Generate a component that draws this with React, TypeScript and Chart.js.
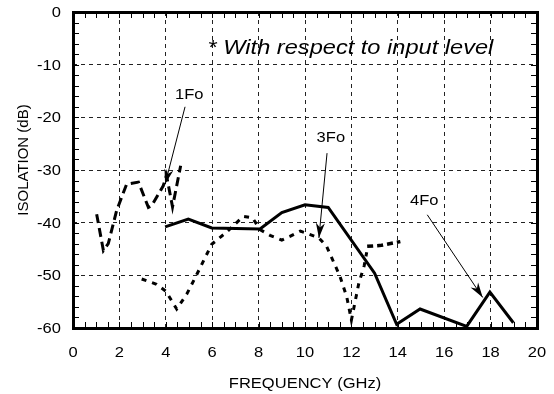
import React, { useEffect, useRef } from "react";
import { Chart, registerables } from "chart.js";

Chart.register(...registerables);

// ---- data ----
const xTickValues = [0, 2, 4, 6, 8, 10, 12, 14, 16, 18, 20];
const yTickValues = [0, -10, -20, -30, -40, -50, -60];

// long-dash curve (1Fo region)
const dashFreq = [1.02, 1.31, 1.52, 1.88, 2.31, 2.82, 3.25, 3.39, 3.89, 4.03, 4.29, 4.64];
const dashDb = [-38.4, -45.3, -44.0, -37.7, -32.7, -32.3, -37.1, -36.8, -33.0, -31.0, -37.0, -29.2];

// solid curve
const solidFreq = [3.97, 4.97, 5.98, 8.06, 9.0, 10.0, 11.0, 13.0, 13.95, 14.96, 16.97, 17.97, 18.98];
const solidDb = [-40.8, -39.3, -41.0, -41.2, -38.1, -36.6, -37.1, -49.6, -59.3, -56.4, -59.7, -53.2, -59.0];

// short-dash (dotted) curve
const dotFreq = [2.96, 3.6, 4.0, 4.47, 4.9, 5.26, 5.98, 6.62, 7.34, 7.74, 8.06, 8.49, 9.0, 9.35, 9.8, 10.0, 10.6, 10.93, 11.5, 11.8, 12.0, 12.32, 12.55, 12.66];
const dotDb = [-50.7, -51.7, -53.0, -56.4, -53.6, -50.5, -44.1, -41.8, -38.8, -39.1, -41.3, -42.4, -43.3, -42.6, -41.6, -41.9, -42.9, -44.5, -50.1, -54.1, -58.5, -51.5, -48.2, -45.6];

// short segment with medium dashes
const segFreq = [12.68, 13.3, 14.11];
const segDb = [-44.5, -44.3, -43.6];

// annotations (data units)
const noteText = "* With respect to input level";
const labelTexts = ["1Fo", "3Fo", "4Fo"];
const labelFreq = [4.4, 10.5, 14.53];
const labelDb = [-16.6, -24.7, -36.7];
const arrowFromFreq = [4.83, 10.95, 15.27];
const arrowFromDb = [-18.0, -26.8, -38.5];
const arrowToFreq = [3.97, 10.6, 17.66];
const arrowToDb = [-32.7, -42.9, -54.2];

const toPts = (xs: number[], ys: number[]) => xs.map((x, i) => ({ x, y: ys[i] }));

const SX = 1.18;

function sText(
  ctx: CanvasRenderingContext2D,
  text: string,
  x: number,
  y: number,
  font: string,
  align: CanvasTextAlign
) {
  ctx.save();
  ctx.font = font;
  ctx.fillStyle = "#000";
  ctx.textBaseline = "alphabetic";
  ctx.translate(x, y);
  ctx.scale(SX, 1);
  ctx.textAlign = align;
  ctx.fillText(text, 0, 0);
  ctx.restore();
}

function drawArrow(ctx: CanvasRenderingContext2D, x1: number, y1: number, x2: number, y2: number) {
  ctx.save();
  ctx.strokeStyle = "#000";
  ctx.fillStyle = "#000";
  ctx.lineWidth = 1;
  ctx.beginPath();
  ctx.moveTo(x1, y1);
  ctx.lineTo(x2, y2);
  ctx.stroke();
  const a = Math.atan2(y2 - y1, x2 - x1);
  const dx = Math.cos(a), dy = Math.sin(a);
  const px = -dy, py = dx;
  const len = 15, w = 4.5;
  ctx.beginPath();
  ctx.moveTo(x2, y2);
  ctx.lineTo(x2 - len * dx + w * px, y2 - len * dy + w * py);
  ctx.lineTo(x2 - 0.7 * len * dx, y2 - 0.7 * len * dy);
  ctx.lineTo(x2 - len * dx - w * px, y2 - len * dy - w * py);
  ctx.closePath();
  ctx.fill();
  ctx.restore();
}

const decorPlugin = {
  id: "decor",
  afterDraw(chart: any) {
    const ctx: CanvasRenderingContext2D = chart.ctx;
    const xs = chart.scales.x;
    const ys = chart.scales.y;
    const { left, right, top, bottom } = chart.chartArea;

    ctx.save();
    // minor ticks
    ctx.strokeStyle = "#000";
    ctx.lineWidth = 1;
    ctx.beginPath();
    for (let v = 0; v <= 20.001; v += 0.5) {
      const px = Math.round(xs.getPixelForValue(v)) + 0.5;
      ctx.moveTo(px, bottom);
      ctx.lineTo(px, bottom - 6);
      ctx.moveTo(px, top);
      ctx.lineTo(px, top + 6);
    }
    for (let v = -60; v <= 0.001; v += 2) {
      const py = Math.round(ys.getPixelForValue(v)) + 0.5;
      ctx.moveTo(left, py);
      ctx.lineTo(left + 6, py);
      ctx.moveTo(right, py);
      ctx.lineTo(right - 6, py);
    }
    ctx.stroke();

    // frame
    ctx.lineWidth = 3;
    ctx.strokeRect(left + 0.5, top + 0.5, right - left, bottom - top);
    ctx.restore();

    // tick labels
    const tickFont = "14px 'Liberation Sans', Arial, sans-serif";
    xTickValues.forEach((v) => {
      sText(ctx, String(v), xs.getPixelForValue(v), bottom + 29, tickFont, "center");
    });
    yTickValues.forEach((v) => {
      sText(ctx, String(v), left - 12, ys.getPixelForValue(v) + 5, tickFont, "right");
    });

    // axis titles
    sText(ctx, "FREQUENCY (GHz)", (left + right) / 2, 388, "14px 'Liberation Sans', Arial, sans-serif", "center");
    ctx.save();
    ctx.translate(28, 160);
    ctx.rotate(-Math.PI / 2);
    ctx.font = "15px 'Liberation Sans', Arial, sans-serif";
    ctx.fillStyle = "#000";
    ctx.textAlign = "center";
    ctx.fillText("ISOLATION (dB)", 0, 0);
    ctx.restore();

    // note
    sText(
      ctx,
      noteText,
      xs.getPixelForValue(5.8),
      ys.getPixelForValue(-7.9),
      "italic 20px 'Liberation Sans', Arial, sans-serif",
      "left"
    );

    // labels and arrows
    labelTexts.forEach((t, i) => {
      sText(
        ctx,
        t,
        xs.getPixelForValue(labelFreq[i]),
        ys.getPixelForValue(labelDb[i]),
        "14px 'Liberation Sans', Arial, sans-serif",
        "left"
      );
      drawArrow(
        ctx,
        xs.getPixelForValue(arrowFromFreq[i]),
        ys.getPixelForValue(arrowFromDb[i]),
        xs.getPixelForValue(arrowToFreq[i]),
        ys.getPixelForValue(arrowToDb[i])
      );
    });
  },
};

export default function App() {
  const ref = useRef<HTMLCanvasElement | null>(null);
  useEffect(() => {
    document.body.style.margin = "0";
    if (!ref.current) return;
    const chart = new Chart(ref.current, {
      type: "scatter",
      data: {
        datasets: [
          {
            data: toPts(dotFreq, dotDb),
            showLine: true,
            borderColor: "#000",
            borderWidth: 3,
            borderDash: [5, 6],
            borderCapStyle: "butt",
            pointRadius: 0,
            fill: false,
          },
          {
            data: toPts(segFreq, segDb),
            showLine: true,
            borderColor: "#000",
            borderWidth: 3.5,
            borderDash: [6, 4],
            borderCapStyle: "butt",
            pointRadius: 0,
            fill: false,
          },
          {
            data: toPts(dashFreq, dashDb),
            showLine: true,
            borderColor: "#000",
            borderWidth: 3,
            borderDash: [9, 5],
            borderCapStyle: "butt",
            pointRadius: 0,
            fill: false,
          },
          {
            data: toPts(solidFreq, solidDb),
            showLine: true,
            borderColor: "#000",
            borderWidth: 3,
            borderJoinStyle: "miter",
            pointRadius: 0,
            fill: false,
          },
        ],
      },
      options: {
        animation: false,
        responsive: false,
        maintainAspectRatio: false,
        layout: { padding: { top: 12, right: 17, left: 0, bottom: 0 } },
        plugins: { legend: { display: false }, tooltip: { enabled: false } },
        scales: {
          x: {
            type: "linear",
            min: 0,
            max: 20,
            afterBuildTicks: (s: any) => {
              s.ticks = xTickValues.map((v) => ({ value: v }));
            },
            ticks: { display: false },
            grid: { color: "#222", lineWidth: 1, drawTicks: false },
            border: { display: false, dash: [4, 4] },
            afterFit: (s: any) => {
              s.height = 66;
            },
          },
          y: {
            type: "linear",
            min: -60,
            max: 0,
            afterBuildTicks: (s: any) => {
              s.ticks = yTickValues.map((v) => ({ value: v }));
            },
            ticks: { display: false },
            grid: { color: "#222", lineWidth: 1, drawTicks: false },
            border: { display: false, dash: [4, 4] },
            afterFit: (s: any) => {
              s.width = 73;
            },
          },
        },
      } as any,
      plugins: [decorPlugin],
    });
    return () => chart.destroy();
  }, []);
  return (
    <div style={{ width: 554, height: 394 }}>
      <canvas ref={ref} width={554} height={394} style={{ display: "block" }} />
    </div>
  );
}
